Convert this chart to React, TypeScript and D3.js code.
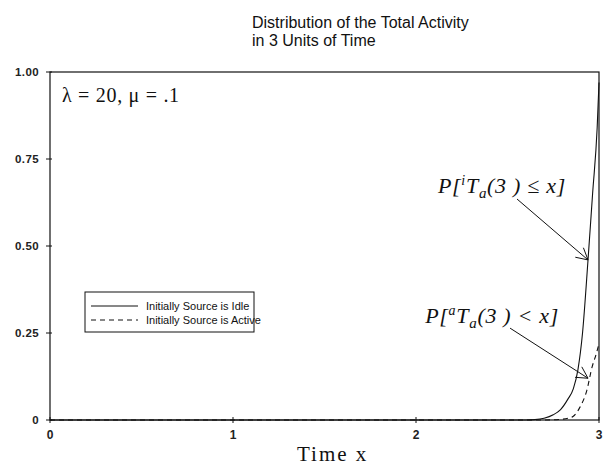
import React from "react";
import * as d3 from "d3";

// Distribution of total activity: P[T ≤ x] for idle / active initial source
const idleX = [0, 2.6, 2.65, 2.7, 2.75, 2.79, 2.83, 2.86, 2.885, 2.91, 2.94, 2.965, 2.99, 3.0];
const idleY = [0, 0, 0.001, 0.005, 0.015, 0.03, 0.06, 0.09, 0.145, 0.25, 0.46, 0.65, 0.84, 0.97];
const activeX = [0, 2.7, 2.79, 2.83, 2.858, 2.896, 2.934, 2.962, 2.985, 3.0];
const activeY = [0, 0, 0.002, 0.005, 0.01, 0.037, 0.086, 0.152, 0.19, 0.22];

const xTicks = [0, 1, 2, 3];
const yTicks = [0, 0.25, 0.5, 0.75, 1.0];
const yTickLabels = ["0", "0.25", "0.50", "0.75", "1.00"];
const titleLines = ["Distribution of the Total Activity", "in 3 Units of Time"];
const legendLabels = ["Initially Source is Idle", "Initially Source is Active"];

const W = 613;
const H = 466;
const M = { left: 50, right: 599, top: 72, bottom: 420 };

const sans = "Liberation Sans, Arial, Helvetica, sans-serif";
const serif = "Liberation Serif, Times New Roman, serif";

export default function App() {
  const x = d3.scaleLinear().domain([0, 3]).range([M.left, M.right]);
  const y = d3.scaleLinear().domain([0, 1]).range([M.bottom, M.top]);

  const line = d3
    .line<[number, number]>()
    .x((d) => x(d[0]))
    .y((d) => y(d[1]))
    .curve(d3.curveMonotoneX);

  const idle = line(idleX.map((v, i) => [v, idleY[i]] as [number, number])) || "";
  const active = line(activeX.map((v, i) => [v, activeY[i]] as [number, number])) || "";

  // open V arrow from tail to tip (data coords)
  const arrow = (tx: number, ty: number, hx: number, hy: number) => {
    const x1 = x(tx), y1 = y(ty), x2 = x(hx), y2 = y(hy);
    const a = Math.atan2(y2 - y1, x2 - x1);
    const len = 13, spread = 0.5;
    const p1 = [x2 - len * Math.cos(a - spread), y2 - len * Math.sin(a - spread)];
    const p2 = [x2 - len * Math.cos(a + spread), y2 - len * Math.sin(a + spread)];
    return (
      <g stroke="#111" strokeWidth={1} fill="none">
        <line x1={x1} y1={y1} x2={x2} y2={y2} />
        <polyline points={`${p1[0]},${p1[1]} ${x2},${y2} ${p2[0]},${p2[1]}`} />
      </g>
    );
  };

  return (
    <svg width={W} height={H} style={{ position: "absolute", left: 0, top: 0, background: "#fff" }}>
      <rect width={W} height={H} fill="#fff" />
      {/* title */}
      {titleLines.map((t, i) => (
        <text key={t} x={252} y={28 + i * 18} fontFamily={sans} fontSize={16} fill="#111">
          {t}
        </text>
      ))}

      {/* frame */}
      <rect
        x={M.left}
        y={M.top}
        width={M.right - M.left}
        height={M.bottom - M.top}
        fill="none"
        stroke="#111"
        strokeWidth={1.2}
      />

      {/* y ticks */}
      {yTicks.map((t, i) => (
        <g key={t}>
          <line x1={M.left - 4} x2={M.left + 2} y1={y(t)} y2={y(t)} stroke="#111" />
          <text
            x={M.left - 11}
            y={y(t) + 4}
            textAnchor="end"
            fontFamily={sans}
            fontSize={11.5}
            fontWeight="bold"
            letterSpacing={0.4}
            fill="#222"
          >
            {yTickLabels[i]}
          </text>
        </g>
      ))}

      {/* x ticks */}
      {xTicks.map((t) => (
        <g key={t}>
          <line x1={x(t)} x2={x(t)} y1={M.bottom - 3} y2={M.bottom + 3} stroke="#111" />
          <text
            x={x(t)}
            y={M.bottom + 19}
            textAnchor="middle"
            fontFamily={sans}
            fontSize={12}
            fontWeight="bold"
            fill="#222"
          >
            {t}
          </text>
        </g>
      ))}

      <text x={297} y={461} fontFamily={serif} fontSize={21} letterSpacing={2} fill="#111">
        Time x
      </text>

      {/* parameters */}
      <text x={62} y={102} fontFamily={serif} fontSize={20} letterSpacing={0.7} fill="#111">
        λ = 20, μ = .1
      </text>

      {/* curves */}
      <path d={idle} fill="none" stroke="#111" strokeWidth={1.1} />
      <path d={active} fill="none" stroke="#111" strokeWidth={1.1} strokeDasharray="5,4" />

      {/* legend */}
      <rect x={85} y={292} width={169} height={40} fill="#fff" stroke="#111" strokeWidth={1} />
      <line x1={91} x2={138} y1={306} y2={306} stroke="#111" />
      <line x1={91} x2={138} y1={320} y2={320} stroke="#111" strokeDasharray="5,4" />
      {legendLabels.map((l, i) => (
        <text key={l} x={146} y={310 + i * 14} fontFamily={sans} fontSize={11} fill="#111">
          {l}
        </text>
      ))}

      {/* annotations */}
      <text
        x={x(2.12)}
        y={193}
        fontFamily={serif}
        fontStyle="italic"
        fontSize={22}
        letterSpacing={0.7}
        fill="#111"
      >
        P[<tspan dy={-8} fontSize={14}>i</tspan>
        <tspan dy={8}>T</tspan>
        <tspan dy={5} fontSize={15}>a</tspan>
        <tspan dy={-5}>(3 ) ≤ x]</tspan>
      </text>
      <text
        x={x(2.05)}
        y={323}
        fontFamily={serif}
        fontStyle="italic"
        fontSize={22}
        letterSpacing={0.7}
        fill="#111"
      >
        P[<tspan dy={-8} fontSize={14}>a</tspan>
        <tspan dy={8}>T</tspan>
        <tspan dy={5} fontSize={15}>a</tspan>
        <tspan dy={-5}>(3 ) &lt; x]</tspan>
      </text>
      {arrow(2.552, 0.635, 2.94, 0.46)}
      {arrow(2.514, 0.264, 2.94, 0.12)}
    </svg>
  );
}
